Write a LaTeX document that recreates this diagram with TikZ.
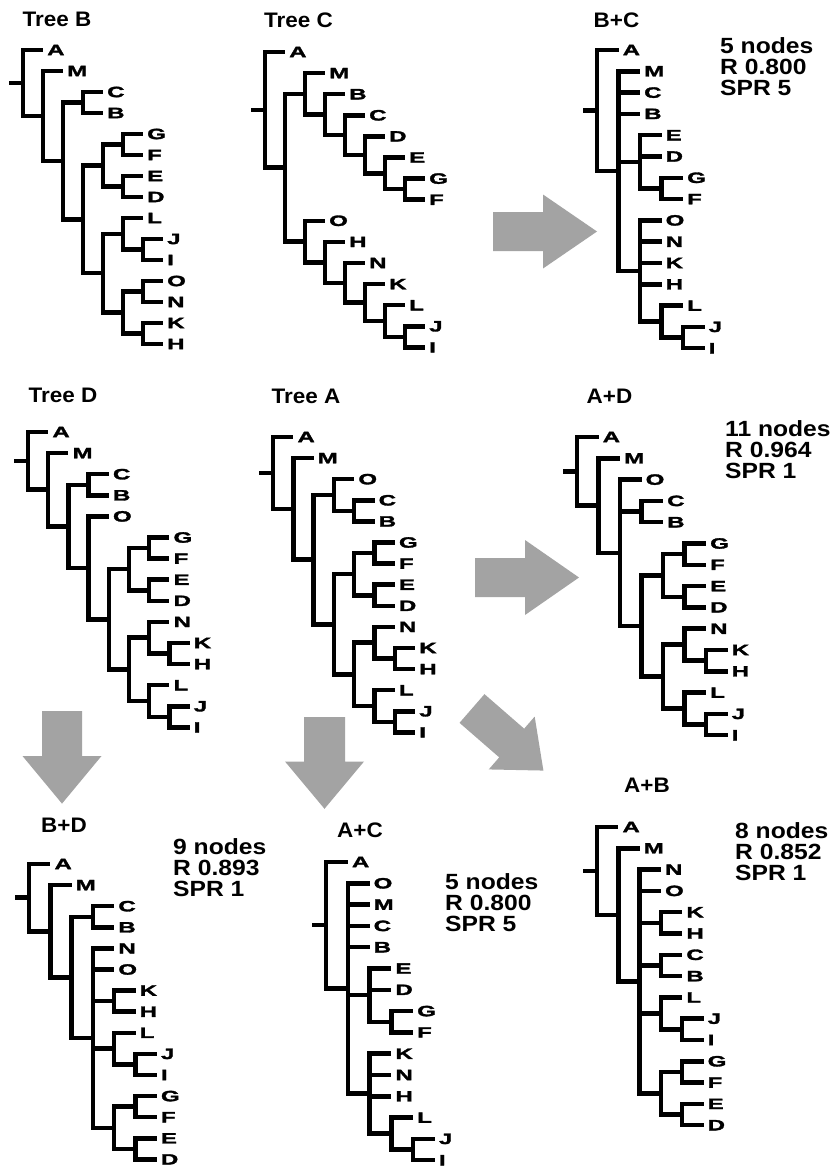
\documentclass[tikz,border=0pt]{standalone}
\usepackage{fontspec}
\setmainfont{Liberation Sans}
\newfontfamily\leaff{Liberation Sans Bold}[FakeStretch=1.6,FakeBold=2]
\newfontfamily\headf{Liberation Sans Bold}[FakeStretch=1.07]
\newfontfamily\statf{Liberation Sans Bold}[FakeStretch=1.12]
\usetikzlibrary{calc}
\definecolor{arrowgray}{RGB}{163,163,163}
\tikzset{
 branch/.style={line width=4.5pt, black, line cap=butt, line join=miter},
 leaflab/.style={anchor=west, inner sep=0pt, xshift=4pt, font=\leaff\fontsize{15}{15}\selectfont},
 ttl/.style={inner sep=0pt, font=\headf\fontsize{21}{21}\selectfont},
 stats/.style={anchor=north west, inner sep=0pt, align=left, font=\statf\fontsize{22}{21}\selectfont},
}
\newcommand\TreeSet[4]{\def\ox{#1}\def\oy{#2}\def\ux{#3}\def\uy{#4}}
\newcommand\Lf[4]{\expandafter\def\csname tyy#1\endcsname{#3}%
 \coordinate (#1) at ({\ox+(#2)*\ux},{-(\oy+(#3)*\uy)});%
 \node[leaflab] (#1t) at (#1) {#4};}
\newcommand\In[4]{\pgfmathsetmacro\tmpy{(\csname tyy#3\endcsname+\csname tyy#4\endcsname)/2}%
 \expandafter\let\csname tyy#1\endcsname\tmpy
 \coordinate (#1) at ({\ox+(#2)*\ux},{-(\oy+\tmpy*\uy)});}
\newcommand\Br[2]{\foreach \cc in {#2}{\draw[branch] (#1) |- (\cc);}}
\newcommand\Stub[1]{\draw[branch] (#1) -- ++(-14,0);}
\newcommand\BArrow[7]{\begin{scope}[shift={(#1,#2)},rotate=#3]
 \fill[arrowgray] (0,#6) -- (#4,#6) -- (#4,#7) -- ({#4+#5},0) -- (#4,-#7) -- (#4,-#6) -- (0,-#6) -- cycle;
 \end{scope}}
\begin{document}
\begin{tikzpicture}[x=1pt,y=1pt]
\fill[white] (0,0) rectangle (835,-1167);
\useasboundingbox (0,0) rectangle (835,-1167);
% arrows
\BArrow{493}{-231.5}{0}{50}{54}{19.5}{37}
\BArrow{475}{-577.5}{0}{50}{54}{19.5}{37.5}
\BArrow{62}{-711}{-90}{45}{47.6}{20}{39.5}
\BArrow{324.5}{-717}{-90}{44.5}{47.3}{20.5}{39.5}
\BArrow{472}{-708.5}{-41}{52.6}{42}{19}{35}
% ---------- Tree B
\TreeSet{23}{50}{20}{21}
\Lf{bA}{1}{0}{A} \Lf{bM}{2}{1}{M} \Lf{bC}{4}{2}{C} \Lf{bB}{4}{3}{B}
\Lf{bG}{6}{4}{G} \Lf{bF}{6}{5}{F} \Lf{bE}{6}{6}{E} \Lf{bD}{6}{7}{D}
\Lf{bL}{6}{8}{L} \Lf{bJ}{7}{9}{J} \Lf{bI}{7}{10}{I}
\Lf{bO}{7}{11}{O} \Lf{bN}{7}{12}{N} \Lf{bK}{7}{13}{K} \Lf{bH}{7}{14}{H}
\In{bGF}{5}{bG}{bF} \In{bED}{5}{bE}{bD} \In{bn4}{4}{bGF}{bED}
\In{bJI}{6}{bJ}{bI} \In{bLJ}{5}{bL}{bJI} \In{bON}{6}{bO}{bN} \In{bKH}{6}{bK}{bH} \In{bOK}{5}{bON}{bKH}
\In{bn5}{4}{bLJ}{bOK} \In{bn3}{3}{bn4}{bn5} \In{bCB}{3}{bC}{bB} \In{bn2}{2}{bCB}{bn3} \In{bn1}{1}{bM}{bn2} \In{br}{0}{bA}{bn1}
\Br{br}{bA,bn1} \Br{bn1}{bM,bn2} \Br{bn2}{bCB,bn3} \Br{bCB}{bC,bB} \Br{bn3}{bn4,bn5} \Br{bn4}{bGF,bED} \Br{bGF}{bG,bF} \Br{bED}{bE,bD} \Br{bn5}{bLJ,bOK} \Br{bLJ}{bL,bJI} \Br{bJI}{bJ,bI} \Br{bOK}{bON,bKH} \Br{bON}{bO,bN} \Br{bKH}{bK,bH}
\Stub{br}
\node[ttl] (bT) at (57,-19.5) {Tree B};
% ---------- Tree C
\TreeSet{265}{52}{20}{21.1}
\Lf{cA}{1}{0}{A} \Lf{cM}{3}{1}{M} \Lf{cB}{4}{2}{B} \Lf{cC}{5}{3}{C} \Lf{cD}{6}{4}{D} \Lf{cE}{7}{5}{E} \Lf{cG}{8}{6}{G} \Lf{cF}{8}{7}{F}
\Lf{cO}{3}{8}{O} \Lf{cH}{4}{9}{H} \Lf{cN}{5}{10}{N} \Lf{cK}{6}{11}{K} \Lf{cL}{7}{12}{L} \Lf{cJ}{8}{13}{J} \Lf{cI}{8}{14}{I}
\In{cGF}{7}{cG}{cF} \In{cEc}{6}{cE}{cGF} \In{cDc}{5}{cD}{cEc} \In{cCc}{4}{cC}{cDc} \In{cBc}{3}{cB}{cCc} \In{cMc}{2}{cM}{cBc}
\In{cJI}{7}{cJ}{cI} \In{cLc}{6}{cL}{cJI} \In{cKc}{5}{cK}{cLc} \In{cNc}{4}{cN}{cKc} \In{cHc}{3}{cH}{cNc} \In{cOc}{2}{cO}{cHc}
\In{cn1}{1}{cMc}{cOc} \In{cr}{0}{cA}{cn1}
\Br{cr}{cA,cn1} \Br{cn1}{cMc,cOc} \Br{cMc}{cM,cBc} \Br{cBc}{cB,cCc} \Br{cCc}{cC,cDc} \Br{cDc}{cD,cEc} \Br{cEc}{cE,cGF} \Br{cGF}{cG,cF}
\Br{cOc}{cO,cHc} \Br{cHc}{cH,cNc} \Br{cNc}{cN,cKc} \Br{cKc}{cK,cLc} \Br{cLc}{cL,cJI} \Br{cJI}{cJ,cI}
\Stub{cr}
\node[ttl] (cT) at (298.5,-20) {Tree C};
% ---------- B+C
\TreeSet{597}{50}{21.5}{21.3}
\Lf{pA}{1}{0}{A} \Lf{pM}{2}{1}{M} \Lf{pC}{2}{2}{C} \Lf{pB}{2}{3}{B} \Lf{pE}{3}{4}{E} \Lf{pD}{3}{5}{D} \Lf{pG}{4}{6}{G} \Lf{pF}{4}{7}{F}
\Lf{pO}{3}{8}{O} \Lf{pN}{3}{9}{N} \Lf{pK}{3}{10}{K} \Lf{pH}{3}{11}{H} \Lf{pL}{4}{12}{L} \Lf{pJ}{5}{13}{J} \Lf{pI}{5}{14}{I}
\In{pGF}{3}{pG}{pF} \In{pEG}{2}{pE}{pGF} \In{pJI}{4}{pJ}{pI} \In{pLJ}{3}{pL}{pJI} \In{pOL}{2}{pO}{pLJ} \In{pn1}{1}{pM}{pOL} \In{pr}{0}{pA}{pn1}
\Br{pr}{pA,pn1} \Br{pn1}{pM,pC,pB,pEG,pOL} \Br{pEG}{pE,pD,pGF} \Br{pGF}{pG,pF} \Br{pOL}{pO,pN,pK,pH,pLJ} \Br{pLJ}{pL,pJI} \Br{pJI}{pJ,pI}
\Stub{pr}
\node[ttl] (pT) at (616.5,-20) {B+C};
\node[stats] (pS) at (720,-37) {5 nodes\\R 0.800\\SPR 5};
% ---------- Tree D
\TreeSet{28}{432}{20.2}{21.1}
\Lf{dA}{1}{0}{A} \Lf{dM}{2}{1}{M} \Lf{dC}{4}{2}{C} \Lf{dB}{4}{3}{B} \Lf{dO}{4}{4}{O} \Lf{dG}{7}{5}{G} \Lf{dF}{7}{6}{F} \Lf{dE}{7}{7}{E} \Lf{dD}{7}{8}{D}
\Lf{dN}{7}{9}{N} \Lf{dK}{8}{10}{K} \Lf{dH}{8}{11}{H} \Lf{dL}{7}{12}{L} \Lf{dJ}{8}{13}{J} \Lf{dI}{8}{14}{I}
\In{dGF}{6}{dG}{dF} \In{dED}{6}{dE}{dD} \In{dGE}{5}{dGF}{dED} \In{dKH}{7}{dK}{dH} \In{dNK}{6}{dN}{dKH} \In{dJI}{7}{dJ}{dI} \In{dLJ}{6}{dL}{dJI} \In{dNL}{5}{dNK}{dLJ}
\In{dn4}{4}{dGE}{dNL} \In{dn3}{3}{dO}{dn4} \In{dCB}{3}{dC}{dB} \In{dn2}{2}{dCB}{dn3} \In{dn1}{1}{dM}{dn2} \In{dr}{0}{dA}{dn1}
\Br{dr}{dA,dn1} \Br{dn1}{dM,dn2} \Br{dn2}{dCB,dn3} \Br{dCB}{dC,dB} \Br{dn3}{dO,dn4} \Br{dn4}{dGE,dNL} \Br{dGE}{dGF,dED} \Br{dGF}{dG,dF} \Br{dED}{dE,dD}
\Br{dNL}{dNK,dLJ} \Br{dNK}{dN,dKH} \Br{dKH}{dK,dH} \Br{dLJ}{dL,dJI} \Br{dJI}{dJ,dI}
\Stub{dr}
\node[ttl] (dT) at (63,-395) {Tree D};
% ---------- Tree A
\TreeSet{273}{437}{20.3}{21.1}
\Lf{aA}{1}{0}{A} \Lf{aM}{2}{1}{M} \Lf{aO}{4}{2}{O} \Lf{aC}{5}{3}{C} \Lf{aB}{5}{4}{B} \Lf{aG}{6}{5}{G} \Lf{aF}{6}{6}{F} \Lf{aE}{6}{7}{E} \Lf{aD}{6}{8}{D}
\Lf{aN}{6}{9}{N} \Lf{aK}{7}{10}{K} \Lf{aH}{7}{11}{H} \Lf{aL}{6}{12}{L} \Lf{aJ}{7}{13}{J} \Lf{aI}{7}{14}{I}
\In{aCB}{4}{aC}{aB} \In{aOC}{3}{aO}{aCB} \In{aGF}{5}{aG}{aF} \In{aED}{5}{aE}{aD} \In{aGE}{4}{aGF}{aED} \In{aKH}{6}{aK}{aH} \In{aNK}{5}{aN}{aKH}
\In{aJI}{6}{aJ}{aI} \In{aLJ}{5}{aL}{aJI} \In{aNL}{4}{aNK}{aLJ} \In{an3}{3}{aGE}{aNL} \In{an2}{2}{aOC}{an3} \In{an1}{1}{aM}{an2} \In{ar}{0}{aA}{an1}
\Br{ar}{aA,an1} \Br{an1}{aM,an2} \Br{an2}{aOC,an3} \Br{aOC}{aO,aCB} \Br{aCB}{aC,aB} \Br{an3}{aGE,aNL} \Br{aGE}{aGF,aED} \Br{aGF}{aG,aF} \Br{aED}{aE,aD}
\Br{aNL}{aNK,aLJ} \Br{aNK}{aN,aKH} \Br{aKH}{aK,aH} \Br{aLJ}{aL,aJI} \Br{aJI}{aJ,aI}
\Stub{ar}
\node[ttl] (aT) at (306,-396.5) {Tree A};
% ---------- A+D
\TreeSet{577}{437}{21.5}{21.3}
\Lf{qA}{1}{0}{A} \Lf{qM}{2}{1}{M} \Lf{qO}{3}{2}{O} \Lf{qC}{4}{3}{C} \Lf{qB}{4}{4}{B} \Lf{qG}{6}{5}{G} \Lf{qF}{6}{6}{F} \Lf{qE}{6}{7}{E} \Lf{qD}{6}{8}{D}
\Lf{qN}{6}{9}{N} \Lf{qK}{7}{10}{K} \Lf{qH}{7}{11}{H} \Lf{qL}{6}{12}{L} \Lf{qJ}{7}{13}{J} \Lf{qI}{7}{14}{I}
\In{qCB}{3}{qC}{qB} \In{qGF}{5}{qG}{qF} \In{qED}{5}{qE}{qD} \In{qGE}{4}{qGF}{qED} \In{qKH}{6}{qK}{qH} \In{qNK}{5}{qN}{qKH}
\In{qJI}{6}{qJ}{qI} \In{qLJ}{5}{qL}{qJI} \In{qNL}{4}{qNK}{qLJ} \In{qn3}{3}{qGE}{qNL} \In{qn2}{2}{qO}{qn3} \In{qn1}{1}{qM}{qn2} \In{qr}{0}{qA}{qn1}
\Br{qr}{qA,qn1} \Br{qn1}{qM,qn2} \Br{qn2}{qO,qCB,qn3} \Br{qCB}{qC,qB} \Br{qn3}{qGE,qNL} \Br{qGE}{qGF,qED} \Br{qGF}{qG,qF} \Br{qED}{qE,qD}
\Br{qNL}{qNK,qLJ} \Br{qNK}{qN,qKH} \Br{qKH}{qK,qH} \Br{qLJ}{qL,qJI} \Br{qJI}{qJ,qI}
\Stub{qr}
\node[ttl] (qT) at (609.5,-396) {A+D};
\node[stats] (qS) at (725,-420) {11 nodes\\R 0.964\\SPR 1};
% ---------- B+D
\TreeSet{29}{864}{21.3}{21.1}
\Lf{sA}{1}{0}{A} \Lf{sM}{2}{1}{M} \Lf{sC}{4}{2}{C} \Lf{sB}{4}{3}{B} \Lf{sN}{4}{4}{N} \Lf{sO}{4}{5}{O} \Lf{sK}{5}{6}{K} \Lf{sH}{5}{7}{H}
\Lf{sL}{5}{8}{L} \Lf{sJ}{6}{9}{J} \Lf{sI}{6}{10}{I} \Lf{sG}{6}{11}{G} \Lf{sF}{6}{12}{F} \Lf{sE}{6}{13}{E} \Lf{sD}{6}{14}{D}
\In{sCB}{3}{sC}{sB} \In{sKH}{4}{sK}{sH} \In{sJI}{5}{sJ}{sI} \In{sLJ}{4}{sL}{sJI} \In{sGF}{5}{sG}{sF} \In{sED}{5}{sE}{sD} \In{sGE}{4}{sGF}{sED}
\In{sn3}{3}{sN}{sGE} \In{sn2}{2}{sCB}{sn3} \In{sn1}{1}{sM}{sn2} \In{sr}{0}{sA}{sn1}
\Br{sr}{sA,sn1} \Br{sn1}{sM,sn2} \Br{sn2}{sCB,sn3} \Br{sCB}{sC,sB} \Br{sn3}{sN,sO,sKH,sLJ,sGE} \Br{sKH}{sK,sH} \Br{sLJ}{sL,sJI} \Br{sJI}{sJ,sI}
\Br{sGE}{sGF,sED} \Br{sGF}{sG,sF} \Br{sED}{sE,sD}
\Stub{sr}
\node[ttl] (sT) at (64,-825.5) {B+D};
\node[stats] (sS) at (173,-838) {9 nodes\\R 0.893\\SPR 1};
% ---------- A+C
\TreeSet{326}{862}{21.75}{21.3}
\Lf{tA}{1}{0}{A} \Lf{tO}{2}{1}{O} \Lf{tM}{2}{2}{M} \Lf{tC}{2}{3}{C} \Lf{tB}{2}{4}{B} \Lf{tE}{3}{5}{E} \Lf{tD}{3}{6}{D} \Lf{tG}{4}{7}{G} \Lf{tF}{4}{8}{F}
\Lf{tK}{3}{9}{K} \Lf{tN}{3}{10}{N} \Lf{tH}{3}{11}{H} \Lf{tL}{4}{12}{L} \Lf{tJ}{5}{13}{J} \Lf{tI}{5}{14}{I}
\In{tGF}{3}{tG}{tF} \In{tEG}{2}{tE}{tGF} \In{tJI}{4}{tJ}{tI} \In{tLJ}{3}{tL}{tJI} \In{tKL}{2}{tK}{tLJ} \In{tn1}{1}{tO}{tKL} \In{tr}{0}{tA}{tn1}
\Br{tr}{tA,tn1} \Br{tn1}{tO,tM,tC,tB,tEG,tKL} \Br{tEG}{tE,tD,tGF} \Br{tGF}{tG,tF} \Br{tKL}{tK,tN,tH,tLJ} \Br{tLJ}{tL,tJI} \Br{tJI}{tJ,tI}
\Stub{tr}
\node[ttl] (tT) at (360,-830.5) {A+C};
\node[stats] (tS) at (445,-873) {5 nodes\\R 0.800\\SPR 5};
% ---------- A+B
\TreeSet{597}{827}{21.3}{21.3}
\Lf{uA}{1}{0}{A} \Lf{uM}{2}{1}{M} \Lf{uN}{3}{2}{N} \Lf{uO}{3}{3}{O} \Lf{uK}{4}{4}{K} \Lf{uH}{4}{5}{H} \Lf{uC}{4}{6}{C} \Lf{uB}{4}{7}{B}
\Lf{uL}{4}{8}{L} \Lf{uJ}{5}{9}{J} \Lf{uI}{5}{10}{I} \Lf{uG}{5}{11}{G} \Lf{uF}{5}{12}{F} \Lf{uE}{5}{13}{E} \Lf{uD}{5}{14}{D}
\In{uKH}{3}{uK}{uH} \In{uCB}{3}{uC}{uB} \In{uJI}{4}{uJ}{uI} \In{uLJ}{3}{uL}{uJI} \In{uGF}{4}{uG}{uF} \In{uED}{4}{uE}{uD} \In{uGE}{3}{uGF}{uED}
\In{un2}{2}{uN}{uGE} \In{un1}{1}{uM}{un2} \In{ur}{0}{uA}{un1}
\Br{ur}{uA,un1} \Br{un1}{uM,un2} \Br{un2}{uN,uO,uKH,uCB,uLJ,uGE} \Br{uKH}{uK,uH} \Br{uCB}{uC,uB} \Br{uLJ}{uL,uJI} \Br{uJI}{uJ,uI}
\Br{uGE}{uGF,uED} \Br{uGF}{uG,uF} \Br{uED}{uE,uD}
\Stub{ur}
\node[ttl] (uT) at (647,-785.5) {A+B};
\node[stats] (uS) at (735,-822) {8 nodes\\R 0.852\\SPR 1};
\end{tikzpicture}
\end{document}
